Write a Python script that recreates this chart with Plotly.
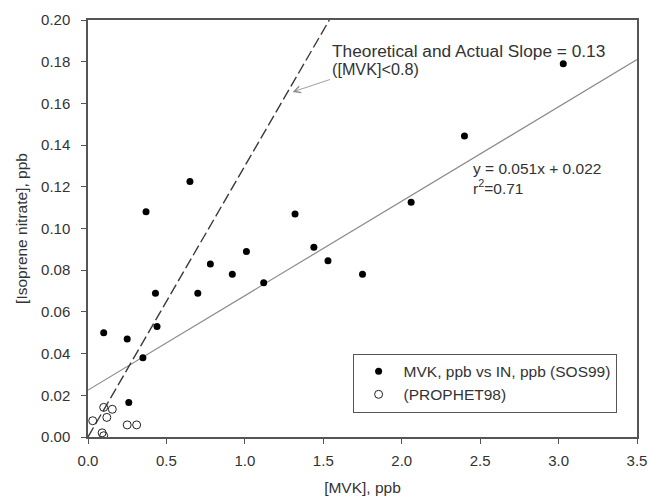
import plotly.graph_objects as go

# SOS99 data: MVK (ppb) vs isoprene nitrate (ppb)
sos_mvk = [0.10, 0.25, 0.26, 0.35, 0.37, 0.43, 0.44, 0.65, 0.70, 0.78,
           0.92, 1.01, 1.12, 1.32, 1.44, 1.53, 1.75, 2.06, 2.40, 3.03]
sos_in = [0.050, 0.047, 0.0165, 0.038, 0.108, 0.069, 0.053, 0.1225, 0.069, 0.083,
          0.078, 0.089, 0.074, 0.107, 0.091, 0.0845, 0.078, 0.1126, 0.1444, 0.179]

# PROPHET98 data
prophet_mvk = [0.03, 0.09, 0.10, 0.10, 0.12, 0.155, 0.25, 0.31]
prophet_in = [0.0078, 0.002, 0.0006, 0.0142, 0.0094, 0.0133, 0.0058, 0.0058]

# Lines
fit_intercept = 0.0225
fit_slope = 0.0453
theory_slope = 0.13

x_range = [0, 3.5]
y_range = [0, 0.20]
x_ticks = [0.0, 0.5, 1.0, 1.5, 2.0, 2.5, 3.0, 3.5]
y_ticks = [0.00, 0.02, 0.04, 0.06, 0.08, 0.10, 0.12, 0.14, 0.16, 0.18, 0.20]

FONT = "Arial, Liberation Sans, sans-serif"
TXT = "#333333"
FS = 15.5
TFS = 15

fit_x = [x_range[0], x_range[1]]
fit_y = [fit_intercept + fit_slope * v for v in fit_x]
theory_x = [0, y_range[1] / theory_slope]
theory_y = [theory_slope * v for v in theory_x]

fig = go.Figure()
fig.add_trace(go.Scatter(x=fit_x, y=fit_y, mode="lines",
                         line=dict(color="#8a8a8a", width=1.2),
                         showlegend=False, hoverinfo="skip"))
fig.add_trace(go.Scatter(x=theory_x, y=theory_y, mode="lines",
                         line=dict(color="#3a3a3a", width=1.4, dash="11px,4px"),
                         showlegend=False, hoverinfo="skip"))
fig.add_trace(go.Scatter(x=sos_mvk, y=sos_in, mode="markers",
                         name="MVK, ppb vs IN, ppb (SOS99)",
                         marker=dict(symbol="circle", size=7, color="black")))
fig.add_trace(go.Scatter(x=prophet_mvk, y=prophet_in, mode="markers",
                         name="(PROPHET98)",
                         marker=dict(symbol="circle-open", size=8, color="#222222",
                                     line=dict(width=1))))

ann = [
    dict(x=1.546, y=0.1852, text="Theoretical and Actual Slope = 0.13", size=17.3),
    dict(x=1.546, y=0.1763, text="([MVK]&lt;0.8)", size=16.2),
    dict(x=2.448, y=0.1289, text="y = 0.051x + 0.022", size=FS),
    dict(x=2.448, y=0.1200, text="r<sup>2</sup>=0.71", size=FS),
]
for a in ann:
    fig.add_annotation(xref="x", yref="y", xanchor="left", yanchor="middle",
                       showarrow=False, borderpad=0,
                       x=a["x"], y=a["y"], text=a["text"],
                       font=dict(family=FONT, size=a["size"], color=TXT))

fig.add_annotation(xref="x", yref="y", axref="x", ayref="y",
                   x=1.305, y=0.1655, ax=1.552, ay=0.1717, text="",
                   showarrow=True, arrowhead=5, arrowsize=1.6, arrowwidth=0.8,
                   arrowcolor="#888888")

axis_common = dict(showline=True, linecolor="#555555", linewidth=1.5, mirror=True,
                   ticks="outside", ticklen=5, tickcolor="#555555", tickwidth=1,
                   showgrid=False, zeroline=False, automargin=False,
                   tickfont=dict(family=FONT, size=TFS, color=TXT))

fig.update_xaxes(range=x_range, tickvals=x_ticks,
                 ticktext=[f"{v:.1f}" for v in x_ticks],
                 title=dict(text="[MVK], ppb", font=dict(family=FONT, size=FS, color=TXT),
                            standoff=16),
                 ticklabelstandoff=4, **axis_common)
fig.update_yaxes(range=y_range, tickvals=y_ticks,
                 ticktext=[f"{v:.2f}" for v in y_ticks],
                 title=dict(text="[Isoprene nitrate], ppb",
                            font=dict(family=FONT, size=FS, color=TXT), standoff=10),
                 ticklabelstandoff=8, **axis_common)

fig.update_layout(
    width=648, height=496,
    margin=dict(l=88, r=11, t=20, b=59),
    paper_bgcolor="white", plot_bgcolor="white",
    font=dict(family=FONT, size=FS, color=TXT),
    legend=dict(x=0.482, y=0.200, xanchor="left", yanchor="top",
                bordercolor="#555555", borderwidth=1, bgcolor="white",
                font=dict(family=FONT, size=FS, color=TXT),
                itemwidth=40, tracegroupgap=0),
    showlegend=True,
)

fig.write_html("out.html",
               config={"displayModeBar": False},
               post_script="document.body.style.margin='0';document.body.style.overflow='hidden';")
